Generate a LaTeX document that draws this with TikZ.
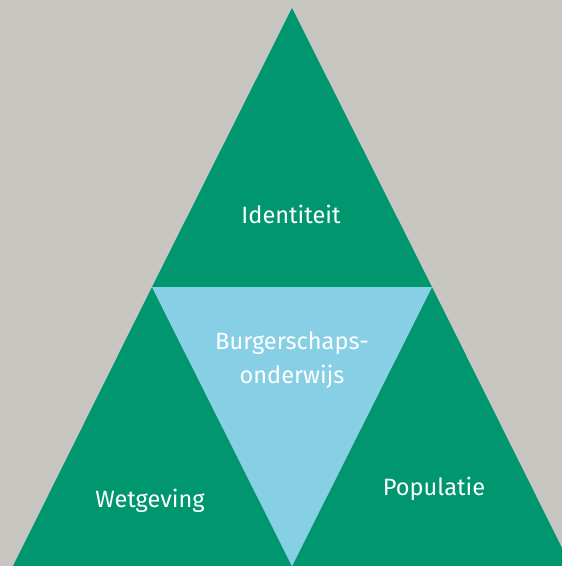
\documentclass[tikz,border=0pt]{standalone}
\usepackage{fontspec}
\setmainfont{Fira Sans}
\definecolor{bggray}{HTML}{C8C6C1}
\definecolor{tgreen}{HTML}{00976F}
\definecolor{tblue}{HTML}{87CFE5}
\begin{document}
\begin{tikzpicture}[x=1pt,y=-1pt,
  tri/.style={fill=tgreen},
  lbl/.style={text=white,font=\fontsize{23.6}{33}\selectfont,anchor=base,inner sep=0pt}]
\fill[bggray] (0,0) rectangle (562,566);
\useasboundingbox (0,0) rectangle (562,566);
\coordinate (apex) at (292,8);
\coordinate (ml) at (152,287);
\coordinate (mr) at (432,287);
\coordinate (bl) at (13,566);
\coordinate (bm) at (292,566);
\coordinate (br) at (571,566);
\fill[tri] (apex) -- (ml) -- (mr) -- cycle;
\fill[tri] (ml) -- (bl) -- (bm) -- cycle;
\fill[tri] (mr) -- (bm) -- (br) -- cycle;
\fill[tblue] (ml) -- (mr) -- (bm) -- cycle;
\node[lbl] (id) at (291,223) {Identiteit};
\node[lbl] (wg) at (150,507) {Wetgeving};
\node[lbl] (pop) at (434,495) {Populatie};
\node[lbl] (bo1) at (292,349) {Burgerschaps-};
\node[lbl] (bo2) at (292,383) {onderwijs};
\end{tikzpicture}
\end{document}
